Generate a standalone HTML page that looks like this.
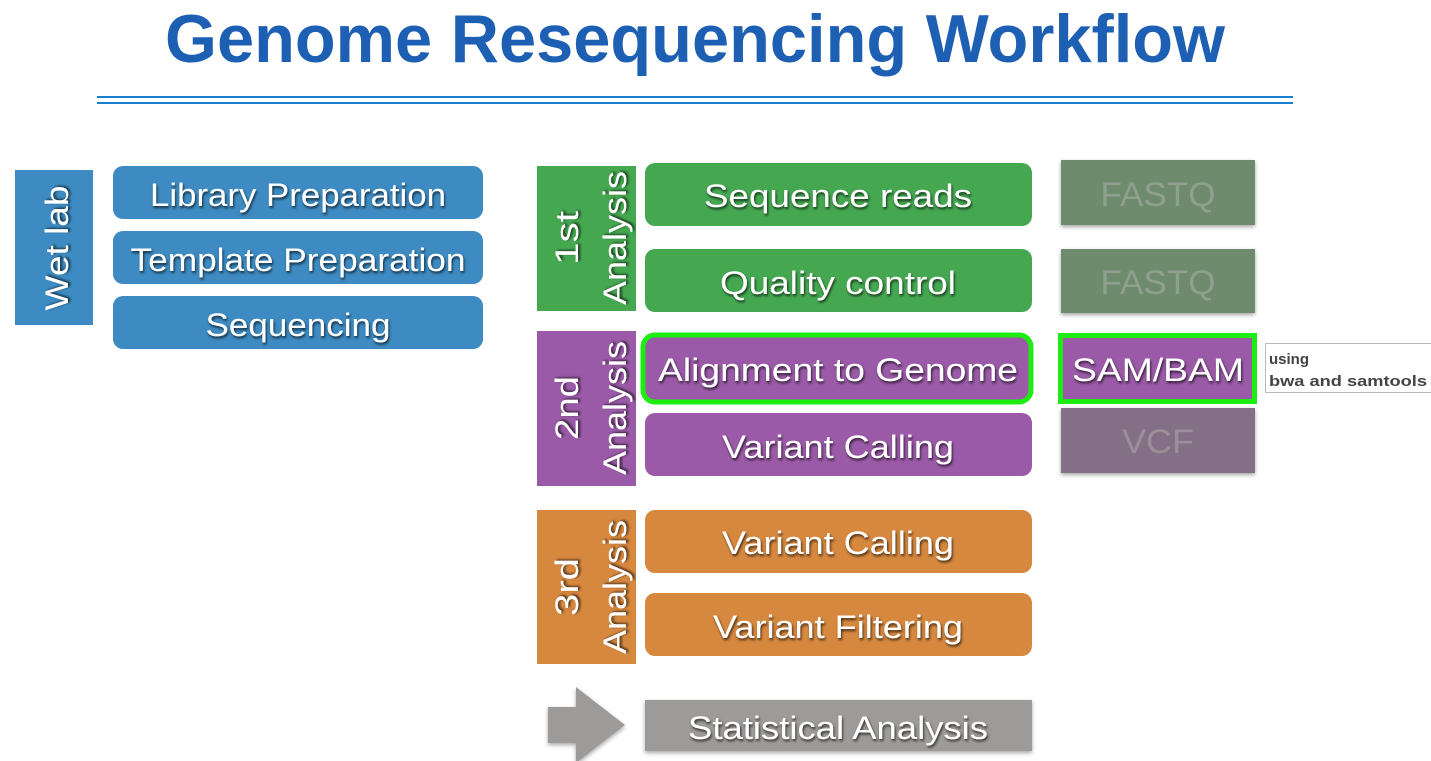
<!DOCTYPE html>
<html><head><meta charset="utf-8"><style>
html,body{margin:0;padding:0;background:#fff;}
svg{display:block}
text{font-family:"Liberation Sans",sans-serif;}
.w{fill:#fff;font-size:32px;text-anchor:middle;filter:url(#sh)}
</style></head><body>
<svg width="1431" height="761" viewBox="0 0 1431 761">
<defs>
<filter id="sh" x="-10%" y="-20%" width="120%" height="150%"><feDropShadow dx="1" dy="2" stdDeviation="1.2" flood-color="#000" flood-opacity="0.7"/></filter>
<filter id="bs" x="-10%" y="-20%" width="120%" height="150%"><feDropShadow dx="0" dy="2" stdDeviation="2" flood-color="#000" flood-opacity="0.35"/></filter>
</defs>
<text x="695" y="62" font-size="68" font-weight="bold" fill="#1d5fb3" text-anchor="middle" textLength="1060" lengthAdjust="spacingAndGlyphs">Genome Resequencing Workflow</text>
<rect x="97" y="96" width="1196" height="2" fill="#1a7fcf"/>
<rect x="97" y="102" width="1196" height="2" fill="#1a7fcf"/>

<!-- Wet lab -->
<rect x="15" y="170" width="78" height="155" fill="#3d8bc2"/>
<text class="w" transform="translate(68,248) rotate(-90)" font-size="36" textLength="125" lengthAdjust="spacingAndGlyphs">Wet lab</text>
<rect x="113" y="166" width="370" height="53" rx="10" fill="#3d8bc2"/>
<text class="w" x="298" y="206" textLength="296" lengthAdjust="spacingAndGlyphs">Library Preparation</text>
<rect x="113" y="231" width="370" height="53" rx="10" fill="#3d8bc2"/>
<text class="w" x="298" y="271" textLength="335" lengthAdjust="spacingAndGlyphs">Template Preparation</text>
<rect x="113" y="296" width="370" height="53" rx="10" fill="#3d8bc2"/>
<text class="w" x="298" y="336" textLength="185" lengthAdjust="spacingAndGlyphs">Sequencing</text>

<!-- 1st -->
<rect x="537" y="166" width="99" height="145" fill="#45a851"/>
<text class="w" transform="translate(578,238) rotate(-90)" font-size="34" textLength="54" lengthAdjust="spacingAndGlyphs">1st</text>
<text class="w" transform="translate(626,238) rotate(-90)" font-size="34" textLength="134" lengthAdjust="spacingAndGlyphs">Analysis</text>
<rect x="645" y="163" width="387" height="63" rx="10" fill="#45a851"/>
<text class="w" x="838" y="207" textLength="268" lengthAdjust="spacingAndGlyphs">Sequence reads</text>
<rect x="645" y="249" width="387" height="63" rx="10" fill="#45a851"/>
<text class="w" x="838" y="294" textLength="236" lengthAdjust="spacingAndGlyphs">Quality control</text>
<rect x="1061" y="160" width="194" height="65" fill="#6e8b6d" filter="url(#bs)"/>
<text x="1158" y="206" font-size="34" fill="#8fa08e" text-anchor="middle" textLength="115" lengthAdjust="spacingAndGlyphs">FASTQ</text>
<rect x="1061" y="249" width="194" height="64" fill="#6e8b6d" filter="url(#bs)"/>
<text x="1158" y="294" font-size="34" fill="#8fa08e" text-anchor="middle" textLength="115" lengthAdjust="spacingAndGlyphs">FASTQ</text>

<!-- 2nd -->
<rect x="537" y="331" width="99" height="155" fill="#9a5aa7"/>
<text class="w" transform="translate(578,408) rotate(-90)" font-size="34" textLength="64" lengthAdjust="spacingAndGlyphs">2nd</text>
<text class="w" transform="translate(626,408) rotate(-90)" font-size="34" textLength="134" lengthAdjust="spacingAndGlyphs">Analysis</text>
<rect x="643" y="335" width="388" height="67" rx="12" fill="#9a5aa7" stroke="#1bee10" stroke-width="5"/>
<text class="w" x="838" y="381" textLength="360" lengthAdjust="spacingAndGlyphs">Alignment to Genome</text>
<rect x="645" y="413" width="387" height="63" rx="10" fill="#9a5aa7"/>
<text class="w" x="838" y="458" textLength="232" lengthAdjust="spacingAndGlyphs">Variant Calling</text>
<rect x="1060.5" y="335.5" width="194" height="66" fill="#9a5aa7" stroke="#1bee10" stroke-width="5"/>
<text class="w" x="1158" y="381" font-size="34" textLength="172" lengthAdjust="spacingAndGlyphs">SAM/BAM</text>
<rect x="1061" y="408" width="194" height="65" fill="#846f86" filter="url(#bs)"/>
<text x="1158" y="453" font-size="34" fill="#9a8e9b" text-anchor="middle" textLength="72" lengthAdjust="spacingAndGlyphs">VCF</text>
<rect x="1265.5" y="343.5" width="170" height="49" fill="#fff" stroke="#bbb"/>
<text x="1269" y="364" font-size="15" font-weight="bold" fill="#444">using</text>
<text x="1269" y="386" font-size="15" font-weight="bold" fill="#444" textLength="158" lengthAdjust="spacingAndGlyphs">bwa and samtools</text>

<!-- 3rd -->
<rect x="537" y="510" width="99" height="154" fill="#d6883f"/>
<text class="w" transform="translate(578,587) rotate(-90)" font-size="34" textLength="58" lengthAdjust="spacingAndGlyphs">3rd</text>
<text class="w" transform="translate(626,587) rotate(-90)" font-size="34" textLength="134" lengthAdjust="spacingAndGlyphs">Analysis</text>
<rect x="645" y="510" width="387" height="63" rx="10" fill="#d6883f"/>
<text class="w" x="838" y="554" textLength="232" lengthAdjust="spacingAndGlyphs">Variant Calling</text>
<rect x="645" y="593" width="387" height="63" rx="10" fill="#d6883f"/>
<text class="w" x="838" y="638" textLength="250" lengthAdjust="spacingAndGlyphs">Variant Filtering</text>

<!-- Stat -->
<polygon points="548,707 576,707 576,687 625,725 576,763 576,743 548,743" fill="#9d9b99" filter="url(#bs)"/>
<rect x="645" y="700" width="387" height="51" fill="#9d9b99" filter="url(#bs)"/>
<text class="w" x="838" y="739" textLength="300" lengthAdjust="spacingAndGlyphs">Statistical Analysis</text>
</svg>
</body></html>
